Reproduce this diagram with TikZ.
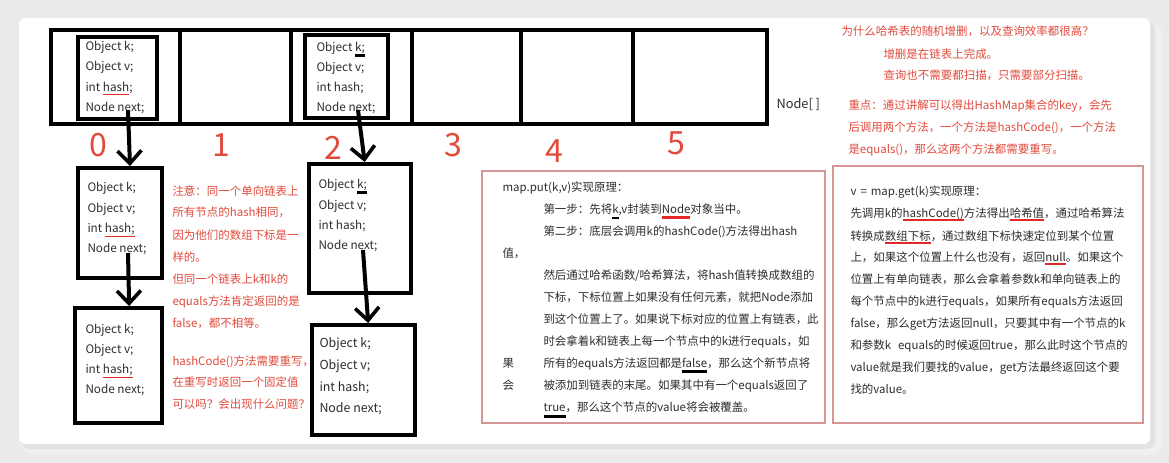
\documentclass[tikz,border=0pt]{standalone}
\usepackage{fontspec}
\setmainfont{Noto Sans CJK SC}
\usetikzlibrary{arrows.meta}

\definecolor{redtxt}{RGB}{226,74,60}
\definecolor{ulred}{RGB}{228,40,40}
\definecolor{txt}{RGB}{45,45,45}
\definecolor{pinkline}{RGB}{214,150,150}
\definecolor{bggray}{RGB}{234,234,234}

% hand drawn underline: colour, raise, thickness, text
\newsavebox\ulbox
\newcommand\markul[4]{\sbox\ulbox{#4}\rlap{\color{#1}\rule[#2]{\wd\ulbox}{#3}}\usebox\ulbox}

\tikzset{every picture/.style={line width=0.75pt}}
\tikzset{
  cell/.style={draw, line width=3pt, inner sep=0pt, minimum width=#1*0.75pt, minimum height=94*0.75pt},
  entry/.style 2 args={draw, line width=3pt, inner sep=0pt, minimum width=#1*0.75pt, minimum height=#2*0.75pt},
  field/.style={anchor=west, inner sep=0pt, text=txt, text height=0.75em, text depth=0.2em, font=\fontsize{8.8}{10}\selectfont},
  body/.style={anchor=west, inner sep=0pt, text=txt, text height=0.8em, text depth=0.2em, font=\fontsize{8.6}{10}\selectfont},
  note/.style={body, text=redtxt},
  idx/.style={inner sep=0pt, text=redtxt, font=\fontsize{24}{24}\selectfont},
  link/.style={line width=3pt, -{Straight Barb[length=9.5pt, width=18pt, line width=2.7pt]}},
  panel/.style={draw=pinkline, line width=1.1pt}
}

\begin{document}
\begin{tikzpicture}[x=0.75pt,y=0.75pt,yscale=-1,xscale=1]
	\useasboundingbox (0,0) rectangle (1169,463);

	%Shape: Background and page
	\fill[bggray] (0,0) rectangle (1169,463);
	\fill[black!6, rounded corners=8] (21,22) rectangle (1162,455);
	\fill[black!11, rounded corners=6] (21,21) rectangle (1155,449);
	\fill[white, rounded corners=5] (19,18) rectangle (1150,444);

	%Shape: Array cells
	\node[cell=129] (cell0) at (115.5,77) {};
	\node[cell=111] (cell1) at (235.5,77) {};
	\node[cell=121] (cell2) at (351.5,77) {};
	\node[cell=109] (cell3) at (466.5,77) {};
	\node[cell=112] (cell4) at (577,77) {};
	\node[cell=134] (cell5) at (700,77) {};
	% Text Node
	\node[anchor=west, inner sep=0pt, text=txt, font=\fontsize{9.6}{10}\selectfont] (arrname) at (776,104) {Node[ ]};

	% Text Node: indices
	\node[idx] (i0) at (98,145) {0};
	\node[idx] (i1) at (221,145) {1};
	\node[idx] (i2) at (333,148) {2};
	\node[idx] (i3) at (453,145) {3};
	\node[idx] (i4) at (554,151) {4};
	\node[idx] (i5) at (676,143) {5};

	%Shape: Entry in slot 0
	\node[entry={79}{82}] (slot0) at (117.5,78) {};
	\node[field] (s0k) at (85,47) {Object k;};
	\node[field] (s0v) at (85,67) {Object v;};
	\node[field] (s0h) at (85,88) {int \markul{ulred}{-2.6pt}{0.5pt}{hash};};
	\node[field] (s0n) at (85,108) {Node next;};
	\coordinate (s0p) at (128,110);

	%Shape: Entry in slot 2
	\node[entry={83}{83}] (slot2) at (346.5,76.5) {};
	\node[field] (s2k) at (316,48) {Object \markul{black}{-4.2pt}{2.2pt}{k;}};
	\node[field] (s2v) at (316,68) {Object v;};
	\node[field] (s2h) at (316,88) {int hash;};
	\node[field] (s2n) at (316,108) {Node next;};
	\coordinate (s2p) at (358,110);

	%Shape: Chain of slot 0
	\node[entry={84}{110}] (boxA) at (120,223) {};
	\node[field] (aK) at (87,188) {Object k;};
	\node[field] (aV) at (87,209) {Object v;};
	\node[field] (aH) at (87,229) {int \markul{ulred}{-3pt}{0.6pt}{hash;}};
	\node[field] (aN) at (87,249) {Node next;};
	\coordinate (aP) at (128,253);

	\node[entry={87}{115}] (boxB) at (118.5,365.5) {};
	\node[field] (bK) at (85,330) {Object k;};
	\node[field] (bV) at (85,350) {Object v;};
	\node[field] (bH) at (85,370) {int \markul{ulred}{-3pt}{0.6pt}{hash;}};
	\node[field] (bN) at (85,390) {Node next;};

	%Shape: Chain of slot 2
	\node[entry={102}{129}] (boxC) at (360,228.5) {};
	\node[field] (cK) at (318,185) {Object \markul{black}{-4.2pt}{2.2pt}{k;}};
	\node[field] (cV) at (318,206) {Object v;};
	\node[field] (cH) at (318,226) {int hash;};
	\node[field] (cN) at (318,246) {Node next;};
	\coordinate (cP) at (363,250);

	\node[entry={103}{110}] (boxD) at (363.5,380) {};
	\node[field, font=\fontsize{9.3}{10}\selectfont] (dK) at (319,344) {Object k;};
	\node[field, font=\fontsize{9.3}{10}\selectfont] (dV) at (319,366) {Object v;};
	\node[field, font=\fontsize{9.3}{10}\selectfont] (dH) at (319,388) {int hash;};
	\node[field, font=\fontsize{9.3}{10}\selectfont] (dN) at (319,409) {Node next;};

	%Straight Lines: next pointers
	\draw[link] (s0p) -- ([xshift=7.5pt]boxA.north);
	\draw[link] (aP) -- ([xshift=8pt]boxB.north);
	\draw[link] (s2p) -- ([xshift=3.5pt]boxC.north);
	\draw[link] (cP) -- ([xshift=3.5pt]boxD.north);

	% Text Node: note on the chains
	\node[note] (n1) at (172,192) {注意：同一个单向链表上};
	\node[note] (n2) at (172,213) {所有节点的hash相同，};
	\node[note] (n3) at (172,235) {因为他们的数组下标是一};
	\node[note] (n4) at (172,257) {样的。};
	\node[note] (n5) at (172,279) {但同一个链表上k和k的};
	\node[note] (n6) at (172,301) {equals方法肯定返回的是};
	\node[note] (n7) at (172,323) {false，都不相等。};
	\node[note] (n8) at (172,361) {hashCode()方法需要重写，};
	\node[note] (n9) at (172,382) {在重写时返回一个固定值};
	\node[note] (n10) at (172,404) {可以吗？会出现什么问题？};

	% Text Node: question top right
	\node[note] (q1) at (841,32) {为什么哈希表的随机增删，以及查询效率都很高？};
	\node[note] (q2) at (883,55) {增删是在链表上完成。};
	\node[note] (q3) at (883,76) {查询也不需要都扫描，只需要部分扫描。};
	\node[note] (k1) at (848,106) {重点：通过讲解可以得出HashMap集合的key，会先};
	\node[note] (k2) at (848,128) {后调用两个方法，一个方法是hashCode()，一个方法};
	\node[note] (k3) at (848,150) {是equals()，那么这两个方法都需要重写。};

	%Shape: put box
	\draw[panel] (482,171) rectangle (825,423);
	\node[body] (p1) at (502,188) {map.put(k,v)实现原理：};
	\node[body] (p2) at (543,210) {第一步：先将\markul{black}{-3.6pt}{1.6pt}{k},v封装到\markul{ulred}{-3.4pt}{1.8pt}{Node}对象当中。};
	\node[body] (p3) at (543,231) {第二步：底层会调用k的hashCode()方法得出hash};
	\node[body] (p4) at (502,253) {值，};
	\node[body] (p5) at (543,275) {然后通过哈希函数/哈希算法，将hash值转换成数组的};
	\node[body] (p6) at (543,297) {下标，下标位置上如果没有任何元素，就把Node添加};
	\node[body] (p7) at (543,319) {到这个位置上了。如果说下标对应的位置上有链表，此};
	\node[body] (p8) at (543,341) {时会拿着k和链表上每一个节点中的k进行equals，如};
	\node[body] (p9) at (543,363) {所有的equals方法返回都是\markul{black}{-4.4pt}{2.2pt}{false}，那么这个新节点将};
	\node[body] (p10) at (543,385) {被添加到链表的末尾。如果其中有一个equals返回了};
	\node[body] (p11) at (543,407) {\markul{black}{-5pt}{2.2pt}{true}，那么这个节点的value将会被覆盖。};
	\node[body] (p9a) at (502,363) {果};
	\node[body] (p10a) at (502,385) {会};

	%Shape: get box
	\draw[panel] (833,166) rectangle (1143,423);
	\node[body] (g1) at (850,192) {v\hspace{0.35em}=\hspace{0.35em}map.get(k)实现原理：};
	\node[body] (g2) at (850,214) {先调用k的\markul{ulred}{-2.2pt}{1.5pt}{hashCode()}方法得出\markul{ulred}{-2.2pt}{1.5pt}{哈希值}，通过哈希算法};
	\node[body] (g3) at (850,236) {转换成\markul{ulred}{-3pt}{1.5pt}{数组下标}，通过数组下标快速定位到某个位置};
	\node[body] (g4) at (850,257) {上，如果这个位置上什么也没有，返回\markul{ulred}{-3pt}{1.5pt}{null}。如果这个};
	\node[body] (g5) at (850,279) {位置上有单向链表，那么会拿着参数k和单向链表上的};
	\node[body] (g6) at (850,301) {每个节点中的k进行equals，如果所有equals方法返回};
	\node[body] (g7) at (850,323) {false，那么get方法返回null，只要其中有一个节点的k};
	\node[body] (g8) at (850,345) {和参数k\hspace{0.6em}equals的时候返回true，那么此时这个节点的};
	\node[body] (g9) at (850,367) {value就是我们要找的value，get方法最终返回这个要};
	\node[body] (g10) at (850,389) {找的value。};

\end{tikzpicture}
\end{document}
